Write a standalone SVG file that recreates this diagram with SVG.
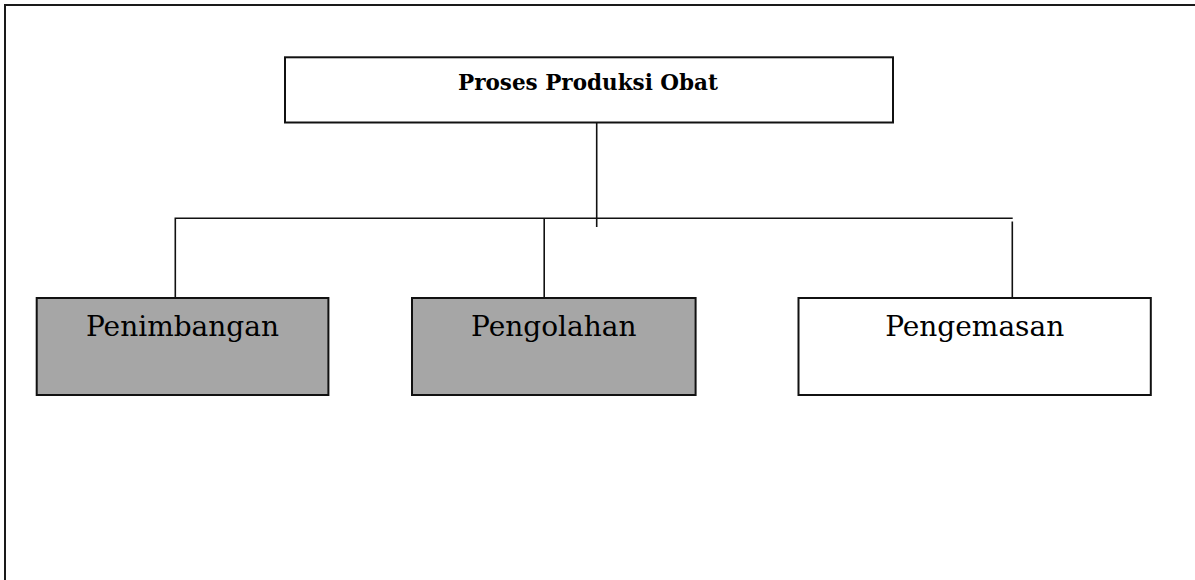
<svg xmlns="http://www.w3.org/2000/svg" width="1195" height="580" viewBox="0 0 1195 580">
  <style>
    .frame { fill: none; stroke: #1a1a1a; stroke-width: 2; }
    .box { stroke: #111; stroke-width: 2; }
    .plain { fill: #ffffff; }
    .shaded { fill: #a6a6a6; }
    .link { fill: none; stroke: #111; stroke-width: 1.6; }
    .title { font-family: "DejaVu Serif", "Liberation Serif", serif; font-weight: bold; font-size: 21.5px; fill: #000; text-anchor: middle; }
    .label { font-family: "DejaVu Serif", "Liberation Serif", serif; font-size: 28px; fill: #000; text-anchor: middle; }
  </style>
  <rect width="1195" height="580" fill="#ffffff"/>
  <!-- page frame, open at right and bottom -->
  <rect class="frame" x="5" y="5" width="1200" height="600"/>

  <g id="connectors">
    <line class="link" x1="596.7" y1="115.5" x2="596.7" y2="227"/>
    <polyline class="link" points="175.3,298 175.3,218.3 1012.7,218.3"/>
    <line class="link" x1="544.2" y1="218.3" x2="544.2" y2="298"/>
    <line class="link" x1="1012.3" y1="221.5" x2="1012.3" y2="298"/>
  </g>

  <g id="node-proses">
    <rect class="box plain" x="285" y="57.3" width="608" height="65.2"/>
    <text class="title" x="588" y="90">Proses Produksi Obat</text>
  </g>

  <g id="node-penimbangan">
    <rect class="box shaded" x="36.7" y="298" width="291.7" height="97"/>
    <text class="label" x="182.5" y="336">Penimbangan</text>
  </g>

  <g id="node-pengolahan">
    <rect class="box shaded" x="412" y="298" width="283.6" height="97"/>
    <text class="label" x="553.8" y="336">Pengolahan</text>
  </g>

  <g id="node-pengemasan">
    <rect class="box plain" x="798.5" y="298" width="352.3" height="97"/>
    <text class="label" x="974.7" y="336">Pengemasan</text>
  </g>
</svg>
